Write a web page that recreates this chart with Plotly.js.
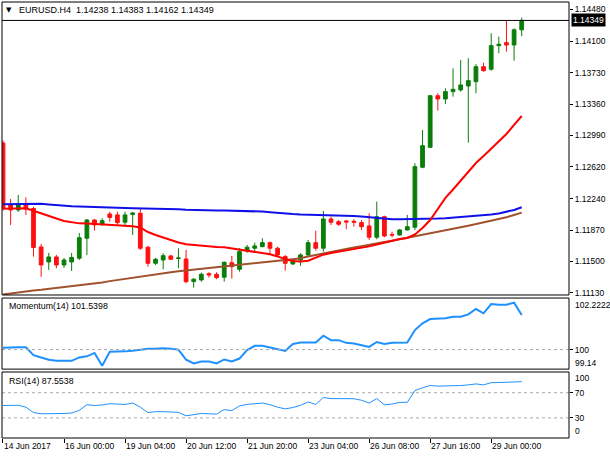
<!DOCTYPE html>
<html><head><meta charset="utf-8">
<script src="https://cdn.plot.ly/plotly-3.0.1.min.js"></script>
<style>html,body{margin:0;padding:0;background:#fff;} #chart{width:610px;height:457px;}</style>
</head><body><div id="chart"></div>
<script>
// ---- data (EURUSD H4) ----
const openP = [1.12900,1.12167,1.12108,1.12179,1.12125,1.11670,1.11493,1.11552,1.11457,1.11493,
1.11537,1.11773,1.11989,1.11942,1.12060,1.12049,1.11963,1.12055,1.12069,1.11667,
1.11477,1.11516,1.11564,1.11534,1.11528,1.11260,1.11280,1.11354,1.11347,1.11312,
1.11484,1.11406,1.11623,1.11655,1.11674,1.11721,1.11655,1.11556,1.11469,1.11516,
1.11576,1.11721,1.11655,1.12001,1.11969,1.11978,1.11974,1.11958,1.11919,1.11785,
1.12028,1.11818,1.11812,1.11871,1.11903,1.12613,1.12849,1.13459,1.13420,1.13507,
1.13527,1.13574,1.13625,1.13802,1.13772,1.14051,1.14086,1.14059,1.14238];
const highP = [1.12930,1.12238,1.12285,1.12258,1.12143,1.11706,1.11599,1.11576,1.11540,1.11599,
1.11836,1.12001,1.12001,1.12010,1.12087,1.12087,1.12087,1.12084,1.12128,1.11682,
1.11540,1.11596,1.11576,1.11655,1.11635,1.11300,1.11366,1.11371,1.11371,1.11496,
1.11564,1.11655,1.11694,1.11721,1.11773,1.11733,1.11674,1.11576,1.11525,1.11596,
1.11753,1.11863,1.12096,1.12028,1.11989,1.11989,1.11997,1.11989,1.12069,1.12206,
1.12040,1.11851,1.11883,1.12049,1.12660,1.13054,1.13468,1.13488,1.13547,1.13783,
1.13882,1.13902,1.13831,1.13850,1.14197,1.14157,1.14355,1.14256,1.14383];
const lowP = [1.12100,1.11930,1.12084,1.12049,1.11556,1.11316,1.11398,1.11418,1.11422,1.11386,
1.11516,1.11576,1.11863,1.11919,1.11969,1.11930,1.11910,1.11812,1.11635,1.11437,
1.11457,1.11406,1.11516,1.11418,1.11241,1.11189,1.11260,1.11307,1.11289,1.11260,
1.11295,1.11378,1.11603,1.11615,1.11667,1.11576,1.11556,1.11390,1.11457,1.11446,
1.11564,1.11627,1.11615,1.11930,1.11919,1.11880,1.11910,1.11871,1.11753,1.11761,
1.11785,1.11785,1.11804,1.11863,1.11871,1.12601,1.12841,1.13282,1.13361,1.13448,
1.13507,1.12904,1.13488,1.13743,1.13755,1.13961,1.13980,1.13873,1.14162];
const closeP = [1.12131,1.12108,1.12167,1.12120,1.11664,1.11457,1.11552,1.11457,1.11516,1.11546,
1.11780,1.11989,1.11930,1.11981,1.12019,1.11958,1.12049,1.12072,1.11655,1.11477,
1.11525,1.11567,1.11525,1.11540,1.11260,1.11289,1.11347,1.11339,1.11307,1.11489,
1.11437,1.11615,1.11667,1.11682,1.11721,1.11655,1.11576,1.11477,1.11508,1.11576,
1.11721,1.11655,1.12001,1.11962,1.11939,1.11966,1.11962,1.11910,1.11785,1.12028,
1.11800,1.11812,1.11871,1.11910,1.12620,1.12868,1.13459,1.13420,1.13507,1.13535,
1.13586,1.13637,1.13802,1.13755,1.14051,1.14067,1.14059,1.14238,1.14349];
const maFast = [1.12123,1.12125,1.12127,1.12128,1.12099,1.12066,1.12041,1.12007,1.11977,1.11960,
1.11949,1.11947,1.11943,1.11941,1.11936,1.11930,1.11923,1.11916,1.11901,1.11847,
1.11812,1.11780,1.11747,1.11723,1.11703,1.11694,1.11684,1.11676,1.11670,1.11666,
1.11652,1.11639,1.11623,1.11607,1.11595,1.11584,1.11558,1.11525,1.11503,1.11498,
1.11508,1.11540,1.11579,1.11599,1.11614,1.11634,1.11652,1.11666,1.11677,1.11700,
1.11723,1.11741,1.11765,1.11776,1.11818,1.11895,1.11989,1.12119,1.12250,1.12350,
1.12456,1.12563,1.12663,1.12746,1.12835,1.12924,1.13006,1.13113,1.13219];
const maSlow = [1.12175,1.12176,1.12177,1.12179,1.12180,1.12181,1.12173,1.12163,1.12155,1.12151,
1.12148,1.12144,1.12141,1.12137,1.12135,1.12134,1.12131,1.12129,1.12128,1.12127,
1.12124,1.12123,1.12119,1.12115,1.12110,1.12106,1.12104,1.12103,1.12102,1.12100,
1.12099,1.12098,1.12096,1.12092,1.12089,1.12082,1.12073,1.12066,1.12060,1.12055,
1.12053,1.12052,1.12051,1.12048,1.12045,1.12041,1.12037,1.12031,1.12022,1.12013,
1.12005,1.11999,1.11998,1.11998,1.11998,1.11999,1.12001,1.12006,1.12011,1.12017,
1.12022,1.12028,1.12037,1.12045,1.12053,1.12066,1.12084,1.12108,1.12140];
const maMid = [1.11108,1.11121,1.11134,1.11146,1.11156,1.11163,1.11173,1.11185,1.11197,1.11209,
1.11218,1.11229,1.11241,1.11251,1.11266,1.11280,1.11295,1.11309,1.11322,1.11335,
1.11348,1.11360,1.11372,1.11383,1.11392,1.11400,1.11410,1.11419,1.11428,1.11437,
1.11445,1.11455,1.11464,1.11475,1.11486,1.11496,1.11507,1.11516,1.11526,1.11536,
1.11556,1.11575,1.11593,1.11607,1.11624,1.11645,1.11663,1.11679,1.11698,1.11714,
1.11729,1.11744,1.11761,1.11777,1.11794,1.11809,1.11826,1.11844,1.11864,1.11883,
1.11903,1.11922,1.11941,1.11961,1.11980,1.11999,1.12021,1.12048,1.12076];
const momentum = [100.08,100.10,100.10,100.10,99.75,99.65,99.55,99.50,99.49,99.50,
99.65,99.70,99.85,99.28,99.90,99.90,99.92,99.95,100.00,100.04,
100.04,100.06,100.04,100.00,99.55,99.38,99.47,99.47,99.38,99.56,
99.47,99.60,99.98,100.17,100.17,100.10,100.03,99.94,100.25,100.32,
100.32,100.32,100.62,100.42,100.42,100.30,100.27,100.20,100.12,100.34,
100.25,100.30,100.32,100.32,100.87,101.17,101.36,101.38,101.40,101.46,
101.47,101.57,101.81,101.62,102.03,102.00,102.00,102.09,101.54];
const rsi = [49.7,49.7,50.0,47.0,38.5,36.5,36.5,36.0,37.0,37.7,
42.0,51.0,49.7,50.5,52.5,52.0,51.4,53.6,47.0,38.5,
39.9,39.9,38.8,38.8,33.3,35.0,37.0,36.5,36.0,43.2,
41.5,49.0,51.5,52.5,53.6,51.0,47.0,44.3,46.5,50.0,
55.3,51.4,62.4,60.7,60.7,60.5,60.5,58.0,53.6,60.7,
50.9,52.0,54.7,54.7,73.5,78.0,81.5,80.5,80.5,81.0,
81.5,82.5,84.0,82.5,86.0,86.3,86.5,87.0,87.55];
const priceTicks = [1.14480,1.14100,1.13730,1.13360,1.12990,1.12620,1.12240,1.11870,1.11500,1.11130];
const dateTickIdx = [0,8,16,24,32,40,48,56,64];
const dateTickLabels = ['14 Jun 2017','16 Jun 00:00','19 Jun 04:00','20 Jun 12:00','21 Jun 20:00','23 Jun 04:00','26 Jun 08:00','27 Jun 16:00','29 Jun 00:00'];
const lastPrice = 1.14349;
const symbolTitle = 'EURUSD.H4\u00a0 1.14238 1.14383 1.14162 1.14349';
const momLabel = 'Momentum(14) 101.5398';
const rsiLabel = 'RSI(14) 87.5538';
const momScale = ['102.2222','100','99.14'];
const rsiScale = ['100','70','30','0'];

const bars = openP.map((_, i) => i);
const FONT = 'Liberation Sans, Arial, sans-serif';

const traces = [
  {type:'candlestick', x:bars, open:openP, high:highP, low:lowP, close:closeP,
   xaxis:'x', yaxis:'y', whiskerwidth:0,
   increasing:{line:{color:'#0a7d0a', width:1}, fillcolor:'#0a7d0a'},
   decreasing:{line:{color:'#ff1010', width:1}, fillcolor:'#ff1010'},
   hoverinfo:'skip'},
  {type:'scatter', mode:'lines', x:bars, y:maMid, xaxis:'x', yaxis:'y', line:{color:'#a0522d', width:2}, hoverinfo:'skip'},
  {type:'scatter', mode:'lines', x:bars, y:maSlow, xaxis:'x', yaxis:'y', line:{color:'#1010e8', width:2}, hoverinfo:'skip'},
  {type:'scatter', mode:'lines', x:bars, y:maFast, xaxis:'x', yaxis:'y', line:{color:'#ff0000', width:2}, hoverinfo:'skip'},
  {type:'scatter', mode:'lines', x:bars, y:momentum, xaxis:'x', yaxis:'y2', line:{color:'#1e90ff', width:2}, hoverinfo:'skip'},
  {type:'scatter', mode:'lines', x:bars, y:rsi, xaxis:'x', yaxis:'y3', line:{color:'#1e90ff', width:1}, hoverinfo:'skip'}
];

const yCommon = {side:'right', anchor:'x', showgrid:false, zeroline:false, showline:false,
  ticks:'outside', ticklen:3, tickcolor:'#000', tickfont:{family:FONT, size:8.5, color:'#000'}, fixedrange:true};

const annotations = [
  {xref:'paper', yref:'paper', x:0.0132, y:0.9817, xanchor:'center', yanchor:'middle', text:'\u25BC', showarrow:false, font:{family:'DejaVu Sans', size:7, color:'#000'}},
  {xref:'paper', yref:'paper', x:0.027, y:0.9817, xanchor:'left', yanchor:'middle', text:symbolTitle, showarrow:false, font:{family:FONT, size:9, color:'#000'}},
  {xref:'paper', yref:'y', x:1, y:lastPrice, xanchor:'left', yanchor:'middle', xshift:2, text:lastPrice.toFixed(5), showarrow:false, bgcolor:'#000', borderpad:1, font:{family:FONT, size:8.5, color:'#fff'}},
  {xref:'paper', yref:'paper', x:0.0088, y:0.3028, xanchor:'left', yanchor:'middle', text:momLabel, showarrow:false, font:{family:FONT, size:8.8, color:'#000'}},
  {xref:'paper', yref:'paper', x:0.0088, y:0.1307, xanchor:'left', yanchor:'middle', text:rsiLabel, showarrow:false, font:{family:FONT, size:8.8, color:'#000'}},
  {xref:'paper', yref:'paper', x:1, xshift:4, y:0.305, xanchor:'left', yanchor:'middle', text:momScale[0], showarrow:false, font:{family:FONT, size:8.5, color:'#000'}},
  {xref:'paper', yref:'paper', x:1, xshift:4, y:0.172, xanchor:'left', yanchor:'middle', text:momScale[2], showarrow:false, font:{family:FONT, size:8.5, color:'#000'}},
  {xref:'paper', yref:'paper', x:1, xshift:4, y:0.1376, xanchor:'left', yanchor:'middle', text:rsiScale[0], showarrow:false, font:{family:FONT, size:8.5, color:'#000'}},
  {xref:'paper', yref:'paper', x:1, xshift:4, y:0.016, xanchor:'left', yanchor:'middle', text:rsiScale[3], showarrow:false, font:{family:FONT, size:8.5, color:'#000'}}
];
dateTickIdx.forEach((ix, k) => {
  annotations.push({xref:'x', yref:'paper', x:ix, y:-0.0183, xanchor:'left', yanchor:'middle', xshift:-1, text:dateTickLabels[k], showarrow:false, font:{family:FONT, size:8.5, color:'#000'}});
});

const frame = (yr) => ({type:'rect', xref:'x domain', yref:yr, x0:0, x1:1, y0:0, y1:1, line:{color:'#000', width:1}, fillcolor:'rgba(0,0,0,0)'});
const level = (yr, v) => ({type:'line', xref:'x domain', yref:yr, x0:0, x1:1, y0:v, y1:v, line:{color:'#a8a8a8', width:1, dash:'dot'}});

const layout = {
  width:610, height:457,
  margin:{l:2, r:41, t:2, b:19, pad:0},
  paper_bgcolor:'#fff', plot_bgcolor:'#fff',
  showlegend:false,
  font:{family:FONT, size:8.5, color:'#000'},
  xaxis:{range:[-0.13, 74.2], anchor:'y3', showgrid:false, zeroline:false, showline:false,
    tickmode:'array', tickvals:dateTickIdx, ticks:'outside', ticklen:4, tickcolor:'#000',
    showticklabels:false, rangeslider:{visible:false}, fixedrange:true},
  yaxis:Object.assign({}, yCommon, {domain:[0.328, 1], range:[1.11102, 1.14567],
    tickmode:'array', tickvals:priceTicks, ticktext:priceTicks.map(v => v.toFixed(5))}),
  yaxis2:Object.assign({}, yCommon, {domain:[0.158, 0.321], range:[99.129, 102.299],
    tickmode:'array', tickvals:[100], ticktext:[momScale[1]]}),
  yaxis3:Object.assign({}, yCommon, {domain:[0, 0.1514], range:[-2, 103],
    tickmode:'array', tickvals:[70, 30], ticktext:[rsiScale[1], rsiScale[2]]}),
  shapes:[
    level('y2', 100), level('y3', 70), level('y3', 30),
    {type:'line', xref:'x domain', yref:'y', x0:0, x1:1, y0:lastPrice, y1:lastPrice, line:{color:'#000', width:1}},
    frame('y domain'), frame('y2 domain'), frame('y3 domain')
  ],
  annotations:annotations
};

Plotly.newPlot('chart', traces, layout, {staticPlot:true, displayModeBar:false});
</script>
</body></html>
